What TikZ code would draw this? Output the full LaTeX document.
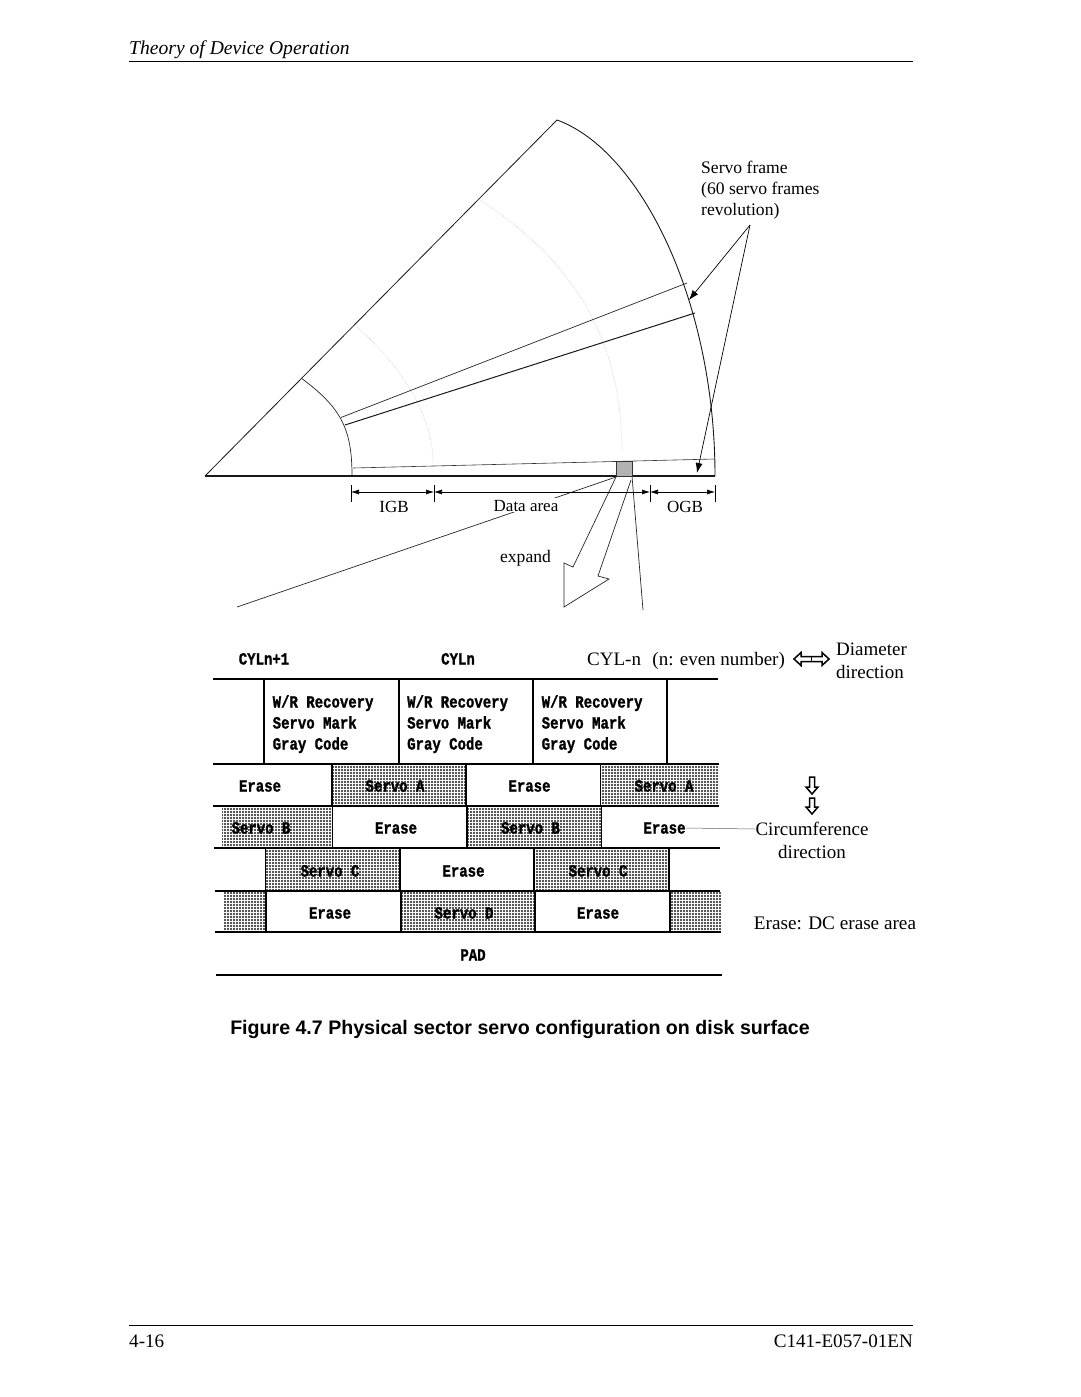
\documentclass[tikz,border=0pt]{standalone}
\usepackage{fontspec}
\setmainfont{Liberation Serif}
\newfontfamily\capfont{Liberation Sans}
\newfontfamily\blockfont[FakeBold=1.4]{Liberation Mono}
\usetikzlibrary{arrows.meta,patterns.meta}
\newcommand{\blocktext}[1]{\scalebox{1}[1.22]{#1}}
\tikzset{
  x=1pt,y=-1pt,
  thinline/.style={line width=0.7pt,black!85},
  ink/.style={line width=1pt,black!90},
  dotarc/.style={line width=0.5pt,black!25,densely dotted},
  shaded/.style={pattern={Dots[distance=3pt,radius=1.05pt]},pattern color=black!90},
  fixh/.style={text height=13pt,text depth=0pt},
  blk/.style={font=\blockfont\bfseries\fontsize{14}{14}\selectfont,inner sep=0pt,anchor=center,text height=11pt,text depth=0pt},
  blkl/.style={blk,anchor=west},
  dimarrow/.style={{Latex[length=8pt,width=5pt]}-{Latex[length=8pt,width=5pt]},line width=0.6pt},
  lab/.style={font=\fontsize{17}{17}\selectfont,inner sep=0pt,fixh},
  labs/.style={font=\fontsize{17.6}{17.6}\selectfont,inner sep=0pt,fixh},
  labb/.style={font=\fontsize{19}{19}\selectfont,inner sep=0pt,fixh},
  hollow/.style={line width=1.5pt,fill=white,line join=miter},
}
\begin{document}
\begin{tikzpicture}
\useasboundingbox (0,0) rectangle (1080,1397);
\fill[white] (0,0) rectangle (1080,1397);
% header / footer
\node[font=\itshape\fontsize{19.6}{19.6}\selectfont,inner sep=0pt,anchor=west,fixh] (hdr) at (129,48.5) {Theory of Device Operation};
\coordinate (hl) at (129,62); \coordinate (hr) at (913,62);
\draw[line width=1pt] (hl) -- (hr);
\coordinate (fl) at (129,1325); \coordinate (fr) at (913,1325);
\draw[line width=0.8pt] (fl) -- (fr);
\node[font=\fontsize{19.1}{19.1}\selectfont,inner sep=0pt,anchor=west,fixh] (pg) at (129,1341) {4-16};
\node[font=\fontsize{19.1}{19.1}\selectfont,inner sep=0pt,anchor=east,fixh] (doc) at (913,1341) {C141-E057-01EN};
\node[font=\capfont\bfseries\fontsize{19.6}{19.6}\selectfont,inner sep=0pt,fixh] (cap) at (520,1028) {Figure 4.7 Physical sector servo configuration on disk surface};
% sector
\draw[dotarc] (355,325) .. controls (395,360) and (433,410) .. (433,463);
\draw[dotarc] (480,200) .. controls (575,262) and (622,340) .. (622,453);
\draw[ink,line width=0.8pt] (205,476) -- (557,120);
\draw[ink,line width=0.9pt] (557,120) .. controls (640,150) and (715,300) .. (715,476);
\draw[thinline] (301,378) .. controls (342,408) and (352,430) .. (352,476);
\draw[thinline] (341,417.5) -- (687,283);
\draw[ink] (345,425) -- (695,313);
\draw[line width=0.6pt,black!80] (353,468) -- (715,459);
\draw[ink,line width=1.2pt] (205,476) -- (715,476);
\node[draw=black!80,fill=black!30,line width=0.6pt,minimum width=16pt,minimum height=15pt,inner sep=0pt,anchor=north west] (gbox) at (616,461) {};
% expand
\coordinate (ll) at (237,607);
\draw[thinline] (616,477) -- (ll);
\coordinate (rl) at (643,610);
\draw[thinline] (632,476) -- (rl);
\draw[line width=0.7pt,black!85,fill=white] (616,477) -- (573,567) -- (564,563) -- (564,607) -- (609,579) -- (598,576) -- (631,480);
% dims
\foreach \n/\x in {a/351,b/434,c/650,d/715}{\coordinate (t\n) at (\x,485); \coordinate (u\n) at (\x,502); \coordinate (m\n) at (\x,492); \draw[line width=0.6pt] (t\n) -- (u\n);}
\draw[dimarrow] (ma) -- (mb);
\draw[dimarrow] (mb) -- (mc);
\draw[dimarrow] (mc) -- (md);
\node[lab] (igb) at (394,506) {IGB};
\node[lab,fill=white,inner sep=0.5pt] (data) at (526,504.5) {Data area};
\node[lab] (ogb) at (685,506) {OGB};
\node[labs] (exp) at (525.5,556) {expand};
% servo frame label
\node[labs,anchor=west] (sf1) at (701,167) {Servo frame};
\node[labs,anchor=west] (sf2) at (701,188) {(60 servo frames};
\node[labs,anchor=west] (sf3) at (701,209) {revolution)};
\coordinate (sfo) at (750,225); \coordinate (sfa) at (689,300); \coordinate (sfb) at (697,473);
\draw[-{Latex[length=10pt,width=7pt]},line width=0.7pt] (sfo) -- (sfa);
\draw[-{Latex[length=10pt,width=7pt]},line width=0.7pt] (sfo) -- (sfb);
% shaded cells
\foreach \a/\b/\c/\d in {332/764/466/806, 600.5/764/719/806, 222/806/332.5/848, 467/806/601.5/848, 265.5/848/400/891, 534/848/669/891, 224/891/266/932, 401/891/535/932, 670/891/721/932}{
  \fill[shaded] (\a,\b) rectangle (\c,\d);
}
% horizontal rules
\foreach \l/\r/\y in {213/718/679, 213/718.5/764, 213/719/806, 214/720/848, 215/720/891, 215/721/932, 216/722/975}{
  \draw[line width=1.1pt] (\l,\y) -- (\r,\y);
}
% vertical rules
\foreach \x/\t/\b in {264/679/764, 399/679/764, 533/679/764, 667/679/764,
  332/764/806, 466/764/806, 600.5/764/806,
  332.5/806/848, 467/806/848, 601.5/806/848,
  265.5/848/891, 400/848/891, 534/848/891, 669/848/891,
  266/891/932, 401/891/932, 535/891/932, 670/891/932}{
  \draw[line width=1.1pt] (\x,\t) -- (\x,\b);
}
% block text
\node[blk] (cyl1) at (264,659) {\blocktext{CYLn+1}};
\node[blk] (cyl2) at (458,659) {\blocktext{CYLn}};
\foreach \n/\x in {a/272.5,b/407,c/541.5}{
  \node[blkl] (wr\n) at (\x,702) {\blocktext{W/R Recovery}};
  \node[blkl] (sm\n) at (\x,723) {\blocktext{Servo Mark}};
  \node[blkl] (gc\n) at (\x,744) {\blocktext{Gray Code}};
}
\node[blk] (r2a) at (260,786) {\blocktext{Erase}};
\node[blk] (r2b) at (395,786) {\blocktext{Servo A}};
\node[blk] (r2c) at (529.5,786) {\blocktext{Erase}};
\node[blk] (r2d) at (664,786) {\blocktext{Servo A}};
\node[blk] (r3a) at (261,828) {\blocktext{Servo B}};
\node[blk] (r3b) at (396,828) {\blocktext{Erase}};
\node[blk] (r3c) at (530.5,828) {\blocktext{Servo B}};
\node[blk] (r3d) at (664.5,828) {\blocktext{Erase}};
\node[blk] (r4a) at (330,871) {\blocktext{Servo C}};
\node[blk] (r4b) at (463.5,871) {\blocktext{Erase}};
\node[blk] (r4c) at (598,871) {\blocktext{Servo C}};
\node[blk] (r5a) at (330,913) {\blocktext{Erase}};
\node[blk] (r5b) at (464,913) {\blocktext{Servo D}};
\node[blk] (r5c) at (598,913) {\blocktext{Erase}};
\node[blk] (pad) at (473,955) {\blocktext{PAD}};
% right labels
\node[labb,anchor=west] (cyln) at (587,658.5) {CYL-n\hspace{0.6em}(n: even number)};
\node[labb,anchor=west] (dia1) at (836,649) {Diameter};
\node[labb,anchor=west] (dia2) at (836,672) {direction};
\node[labb] (cir1) at (812,829) {Circumference};
\node[labb] (cir2) at (812,852) {direction};
\node[labb,font=\fontsize{19.2}{19.2}\selectfont] (dc) at (835,923) {Erase: DC erase area};
\draw[line width=0.5pt,black!60] (r3d.east) -- (cir1.west);
% hollow arrows
\draw[hollow] (794,659) -- (801,652.5) -- (801,656.5) -- (822,656.5) -- (822,652.5) -- (829,659) -- (822,665.5) -- (822,661.5) -- (801,661.5) -- (801,665.5) -- cycle;
\draw[line width=1pt] (811,656.5) -- (811,661.5);
\draw[hollow] (812,794) -- (806,787) -- (809.5,787) -- (809.5,777) -- (814.5,777) -- (814.5,787) -- (818,787) -- cycle;
\draw[hollow] (812,814) -- (806,807) -- (809.5,807) -- (809.5,798) -- (814.5,798) -- (814.5,807) -- (818,807) -- cycle;
\end{tikzpicture}
\end{document}
